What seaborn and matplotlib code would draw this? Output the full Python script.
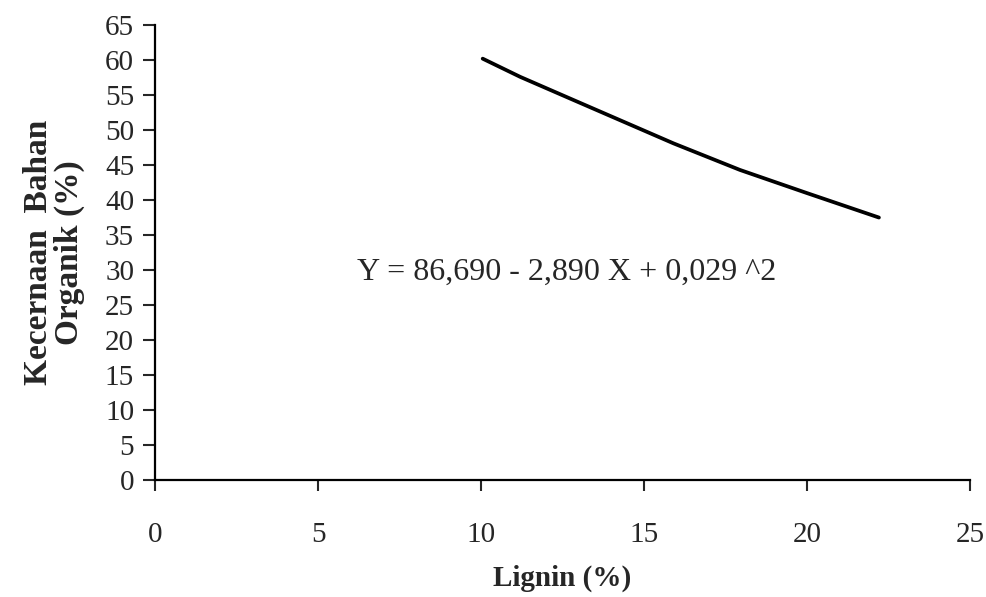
import seaborn as sns
import matplotlib.pyplot as plt
import pandas as pd

# Points
lignin = [10.05, 11.2, 12.83, 15.9, 17.94, 19.99, 22.2]
kecernaan = [60.2, 57.6, 54.3, 48.1, 44.3, 41.0, 37.5]

x_ticks = [0, 5, 10, 15, 20, 25]
y_ticks = list(range(0, 70, 5))
equation = "Y = 86,690 - 2,890 X + 0,029 ^2"

data = pd.DataFrame({'Lignin': lignin, 'KBO': kecernaan})

sns.set_style("white")
plt.rcParams['font.family'] = ['Liberation Serif', 'DejaVu Serif']

fig = plt.figure(figsize=(9.87, 5.97), dpi=100)
ax = fig.add_axes([0.157, 0.196, 0.826, 0.762])

sns.lineplot(x='Lignin', y='KBO', data=data, color='black', linewidth=2.7, ax=ax)

ax.set_xlim(0, 25)
ax.set_ylim(0, 65)
ax.set_xticks(x_ticks)
ax.set_yticks(y_ticks)

# only left and bottom axes, ticks pointing outwards
sns.despine(ax=ax)
for side in ['left', 'bottom']:
    ax.spines[side].set_linewidth(1.6)
    ax.spines[side].set_color('black')
ax.tick_params(axis='x', direction='out', length=8, width=1.5, pad=22, labelsize=21, bottom=True)
ax.tick_params(axis='y', direction='out', length=9, width=1.5, pad=6, labelsize=21, left=True)

ax.set_xlabel('Lignin (%)', fontsize=21, fontweight='bold', labelpad=12)
ax.set_ylabel('Kecernaan  Bahan\nOrganik (%)', fontsize=24, fontweight='bold', labelpad=14,
              linespacing=1.0)

ax.text(6.2, 29.7, equation, fontsize=23, ha='left', va='center')

plt.savefig('out.png', dpi=100)
